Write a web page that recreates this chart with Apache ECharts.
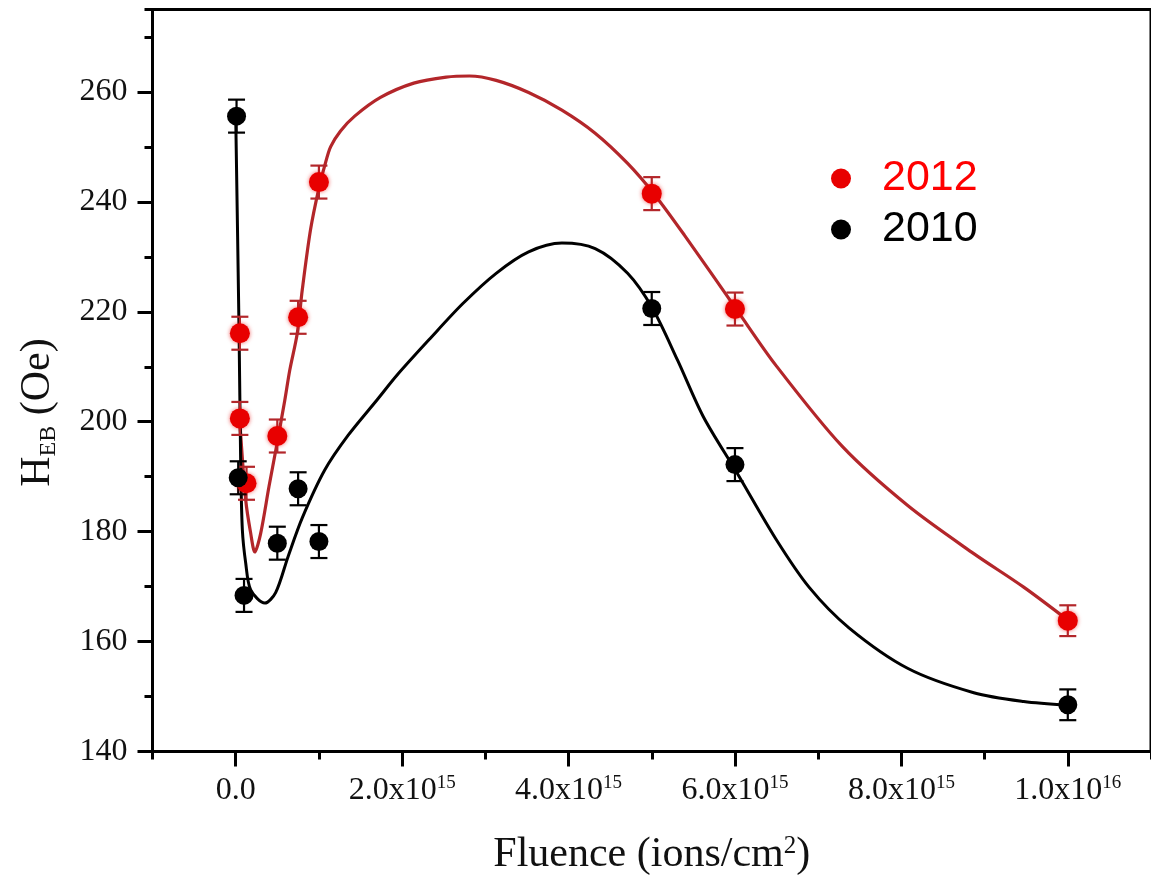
<!DOCTYPE html>
<html>
<head>
<meta charset="utf-8">
<title>Exchange bias vs fluence</title>
<script src="https://cdn.jsdelivr.net/npm/echarts@6/dist/echarts.min.js"></script>
<style>
  html, body { margin: 0; padding: 0; background: #fff; }
  #chart { width: 1151px; height: 883px; }
</style>
</head>
<body>
<div id="chart"></div>
<script>
// Measured exchange-bias field H_EB (Oe) against ion fluence (ions/cm^2)
const fluence2012 = [5e13, 5e13, 1.3e14, 5e14, 7.5e14, 1e15, 5e15, 6e15, 1e16];
const heb2012     = [216.1, 200.6, 188.8, 197.4, 219.0, 243.6, 241.5, 220.5, 163.8];
const err2012     = [3, 3, 3, 3, 3, 3, 3, 3, 2.8];

const fluence2010 = [1e13, 3e13, 1e14, 5e14, 7.5e14, 1e15, 5e15, 6e15, 1e16];
const heb2010     = [255.6, 189.8, 168.4, 177.9, 187.8, 178.2, 220.6, 192.2, 148.5];
const err2010     = [3, 3, 3, 3, 3, 3, 3, 3, 2.8];

// Guide curves through each data set (fluence in units of 1e15)
const fitX2012 = [0.045, 0.12, 0.18, 0.23, 0.30, 0.40, 0.49, 0.59, 0.65, 0.74, 0.80, 0.90, 1.0, 1.07, 1.14, 1.26, 1.43, 1.74, 2.14, 2.53, 2.81, 3.13, 3.52, 3.92, 4.32, 4.71, 5.03, 5.39, 6.02, 6.49, 7.29, 8.08, 8.87, 9.47, 10.0];
const fitY2012 = [201.0, 185.8, 179.7, 176.3, 179.7, 188.2, 195.5, 203.9, 209.4, 216.1, 224.0, 235.0, 242.5, 246.6, 250.0, 252.9, 255.6, 259.0, 261.6, 262.7, 262.9, 262.1, 259.9, 256.7, 252.5, 247.0, 241.4, 234.0, 220.4, 210.3, 195.5, 184.7, 176.0, 169.9, 163.9];

const fitX2010 = [0.0, 0.04, 0.06, 0.08, 0.12, 0.18, 0.35, 0.48, 0.63, 0.80, 1.07, 1.35, 1.70, 1.94, 2.34, 2.73, 3.13, 3.52, 3.92, 4.32, 4.71, 5.01, 5.31, 5.62, 6.02, 6.49, 6.89, 7.37, 8.08, 8.87, 9.47, 10.0];
const fitY2010 = [255.6, 216.7, 192.4, 180.3, 174.3, 169.4, 167.0, 168.9, 175.5, 182.5, 191.2, 197.5, 204.0, 208.5, 215.2, 221.5, 227.0, 230.9, 232.5, 231.5, 227.0, 220.6, 211.2, 200.9, 190.8, 178.7, 169.9, 162.5, 155.1, 150.7, 149.1, 148.4];
const fitUnit = 1e15;

// Axis ticks
const xMajorTicks = [0, 2e15, 4e15, 6e15, 8e15, 1e16];
const yMajorTicks = [140, 160, 180, 200, 220, 240, 260];

const RED = '#e80000';
const RED_LINE = '#b3262a';
const SERIF = '"Liberation Serif", "DejaVu Serif", serif';

function zip(xs, ys, scale) {
  return xs.map((x, i) => [x * (scale || 1), ys[i]]);
}
function errData(xs, ys, es) {
  return xs.map((x, i) => [x, ys[i] - es[i], ys[i] + es[i]]);
}
function errorBars(color) {
  return function (params, api) {
    const x = api.value(0);
    const lo = api.coord([x, api.value(1)]);
    const hi = api.coord([x, api.value(2)]);
    const w = 8.5;
    const style = { stroke: color, lineWidth: 2.2 };
    return {
      type: 'group',
      children: [
        { type: 'line', shape: { x1: hi[0], y1: hi[1], x2: lo[0], y2: lo[1] }, style },
        { type: 'line', shape: { x1: hi[0] - w, y1: hi[1], x2: hi[0] + w, y2: hi[1] }, style },
        { type: 'line', shape: { x1: lo[0] - w, y1: lo[1], x2: lo[0] + w, y2: lo[1] }, style }
      ]
    };
  };
}
function sciLabel(v) {
  if (v === 0) return '{b|0.0}';
  const e = Math.floor(Math.log10(v) + 1e-9);
  const m = (v / Math.pow(10, e)).toFixed(1);
  return '{b|' + m + 'x10}{s|' + e + '}';
}

const xRange = { min: -1e15, max: 1.1e16 };
const yRange = { min: 140, max: 275 };
const tickLine = { color: '#000', width: 3 };

const option = {
  animation: false,
  backgroundColor: '#fff',
  grid: {
    left: 152.5, top: 9.5, right: -11.5, bottom: 131.5,
    show: true, borderColor: '#000', borderWidth: 3, backgroundColor: 'transparent'
  },
  legend: {
    orient: 'vertical', left: 826, top: 152,
    itemWidth: 20, itemHeight: 20, itemGap: 8, icon: 'circle',
    textStyle: { fontFamily: '"Liberation Sans", Arial, sans-serif', fontSize: 43, padding: [0, 0, 0, 26] },
    data: [
      { name: '2012', textStyle: { color: '#ff0000' } },
      { name: '2010', textStyle: { color: '#000000' } }
    ]
  },
  xAxis: [
    {
      type: 'value', min: xRange.min, max: xRange.max, interval: 1e15,
      axisLine: { onZero: false, lineStyle: { color: '#000', width: 3 } },
      axisTick: { inside: false, length: 8, lineStyle: tickLine },
      axisLabel: { show: false }, splitLine: { show: false }
    },
    {
      type: 'value', min: xRange.min, max: xRange.max, position: 'bottom',
      axisLine: { show: false, onZero: false },
      axisTick: { show: true, inside: false, length: 15, customValues: xMajorTicks, lineStyle: tickLine },
      axisLabel: {
        customValues: xMajorTicks, margin: 22, formatter: sciLabel,
        rich: {
          b: { fontFamily: SERIF, fontSize: 32, color: '#111', lineHeight: 34 },
          s: { fontFamily: SERIF, fontSize: 19, color: '#111', verticalAlign: 'top', lineHeight: 19 }
        }
      },
      splitLine: { show: false },
      name: 'Fluence (ions/cm{s|2})', nameLocation: 'middle', nameGap: 82,
      nameTextStyle: {
        fontFamily: SERIF, fontSize: 42, color: '#111',
        rich: { s: { fontFamily: SERIF, fontSize: 25, color: '#111', verticalAlign: 'top', lineHeight: 25 } }
      }
    }
  ],
  yAxis: [
    {
      type: 'value', min: yRange.min, max: yRange.max, interval: 10,
      axisLine: { onZero: false, lineStyle: { color: '#000', width: 3 } },
      axisTick: { inside: false, length: 8, lineStyle: tickLine },
      axisLabel: { show: false }, splitLine: { show: false }
    },
    {
      type: 'value', min: yRange.min, max: yRange.max, position: 'left',
      axisLine: { show: false, onZero: false },
      axisTick: { show: true, inside: false, length: 15, customValues: yMajorTicks, lineStyle: tickLine },
      axisLabel: { customValues: yMajorTicks, margin: 25, fontFamily: SERIF, fontSize: 32, color: '#111' },
      splitLine: { show: false },
      name: '{h|H}{sub|EB}{h| (Oe)}', nameLocation: 'middle', nameGap: 92,
      nameTextStyle: {
        padding: [0, 64, 0, 0],
        rich: {
          h: { fontFamily: SERIF, fontSize: 42, color: '#111', lineHeight: 46 },
          sub: { fontFamily: SERIF, fontSize: 24, color: '#111', verticalAlign: 'bottom', lineHeight: 46 }
        }
      }
    }
  ],
  series: [
    {
      name: 'fit 2012', type: 'line', xAxisIndex: 0, yAxisIndex: 0, z: 2,
      data: zip(fitX2012, fitY2012, fitUnit), showSymbol: false, smooth: 0.3,
      lineStyle: { color: RED_LINE, width: 3.2 }, silent: true
    },
    {
      name: 'fit 2010', type: 'line', xAxisIndex: 0, yAxisIndex: 0, z: 2,
      data: zip(fitX2010, fitY2010, fitUnit), showSymbol: false, smooth: 0.3,
      lineStyle: { color: '#000', width: 3 }, silent: true
    },
    {
      name: 'err 2012', type: 'custom', xAxisIndex: 0, yAxisIndex: 0, z: 3,
      data: errData(fluence2012, heb2012, err2012), renderItem: errorBars(RED_LINE), silent: true
    },
    {
      name: 'err 2010', type: 'custom', xAxisIndex: 0, yAxisIndex: 0, z: 3,
      data: errData(fluence2010, heb2010, err2010), renderItem: errorBars('#000'), silent: true
    },
    {
      name: '2012', type: 'scatter', xAxisIndex: 0, yAxisIndex: 0, z: 4,
      data: zip(fluence2012, heb2012), symbol: 'circle', symbolSize: 20,
      itemStyle: { color: RED, opacity: 1, shadowBlur: 4, shadowColor: 'rgba(230,0,0,0.6)' }
    },
    {
      name: '2010', type: 'scatter', xAxisIndex: 0, yAxisIndex: 0, z: 4,
      data: zip(fluence2010, heb2010), symbol: 'circle', symbolSize: 19,
      itemStyle: { color: '#000', opacity: 1 }
    }
  ]
};

const chart = echarts.init(document.getElementById('chart'), null, { renderer: 'canvas' });
chart.setOption(option);
</script>
</body>
</html>
